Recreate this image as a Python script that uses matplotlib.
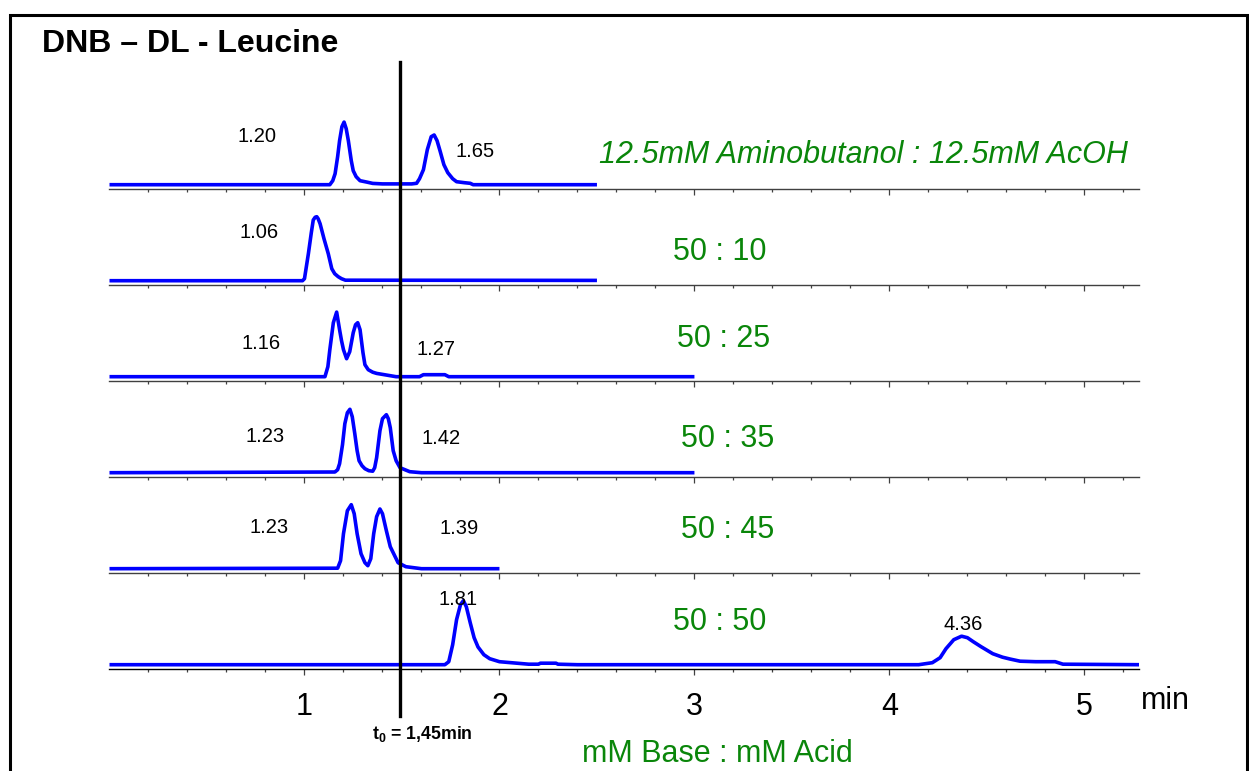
import matplotlib
matplotlib.use('Agg')
import matplotlib.pyplot as plt
from matplotlib.ticker import FixedLocator
from matplotlib.lines import Line2D
from matplotlib.patches import Rectangle
import matplotlib.transforms as mtransforms

plt.rcParams['font.family'] = ['Liberation Sans', 'DejaVu Sans']
plt.rcParams['mathtext.fontset'] = 'custom'
plt.rcParams['mathtext.rm'] = 'Liberation Sans'
plt.rcParams['mathtext.bf'] = 'Liberation Sans:bold'

# ---------------- data ----------------
title = "DNB – DL - Leucine"
x_unit = "min"
x_ticks = [1, 2, 3, 4, 5]
t0_position = 1.49            # where the t0 marker is drawn
t0_label = r"$\mathbf{t_0}$ = 1,45min"
axis_title = "mM Base : mM Acid"

conditions = ["12.5mM Aminobutanol : 12.5mM AcOH", "50 : 10", "50 : 25",
              "50 : 35", "50 : 45", "50 : 50"]

# peak retention-time labels per trace
peak_labels = [["1.20", "1.65"], ["1.06"], ["1.16", "1.27"],
               ["1.23", "1.42"], ["1.23", "1.39"], ["1.81", "4.36"]]

# chromatogram traces: time (min) and signal (arbitrary units)
t_row1 = [0, 1.13, 1.145, 1.157, 1.17, 1.18, 1.192, 1.203, 1.214, 1.225, 1.24, 1.25, 1.265,
          1.285, 1.32, 1.35, 1.40, 1.55, 1.575, 1.59, 1.61, 1.63, 1.65, 1.665, 1.68, 1.695,
          1.715, 1.735, 1.76, 1.78, 1.82, 1.85, 1.865, 2.50]
s_row1 = [0, 0, 4, 11, 28, 44, 58, 62.6, 56, 44, 24, 14, 8,
          4, 2.6, 1.3, 0.8, 0.8, 1.4, 6, 15, 35, 48, 49.7, 44, 34,
          20, 12, 6, 3, 2, 1.4, 0, 0]

t_row2 = [0, 0.99, 1.00, 1.02, 1.035, 1.045, 1.055, 1.063, 1.07, 1.08, 1.10, 1.122, 1.14,
          1.155, 1.173, 1.19, 1.21, 2.50]
s_row2 = [0, 0, 2, 27, 48, 60.7, 63.5, 64, 62, 57, 42, 27, 12,
          7, 4, 2, 0.5, 0.3]

t_row3 = [0, 1.105, 1.12, 1.13, 1.148, 1.165, 1.18, 1.19, 1.20, 1.216, 1.232, 1.25, 1.262,
          1.273, 1.285, 1.30, 1.31, 1.327, 1.35, 1.37, 1.44, 1.47, 1.59, 1.61, 1.72, 1.74, 3.0]
s_row3 = [0, 0, 10, 27, 54, 64.6, 47, 36, 27, 18, 25, 44, 52,
          54, 47, 24, 12, 7, 4.5, 3.3, 1, 0, 0, 2, 2, 0, 0]

t_row4 = [0, 1.156, 1.17, 1.18, 1.195, 1.207, 1.22, 1.233, 1.245, 1.258, 1.27, 1.28, 1.295,
          1.31, 1.33, 1.35, 1.36, 1.37, 1.387, 1.40, 1.42, 1.43, 1.44, 1.455, 1.47, 1.49,
          1.54, 1.60, 3.0]
s_row4 = [0, 0.7, 3, 9, 28, 49, 60, 63.4, 56, 39, 22, 12, 7,
          4, 2, 1.5, 5, 15, 42, 54, 58, 54, 45, 22, 12, 5,
          1, 0, 0]

t_row5 = [0, 1.17, 1.185, 1.20, 1.22, 1.24, 1.255, 1.27, 1.29, 1.31, 1.325, 1.34, 1.355,
          1.37, 1.387, 1.40, 1.42, 1.44, 1.455, 1.48, 1.52, 1.56, 1.60, 2.0]
s_row5 = [0, 0.5, 8, 35, 58, 64, 55, 35, 15, 6, 3, 10, 35,
          52, 59.7, 55, 38, 22, 16, 6, 2, 1, 0, 0]

t_row6 = [0, 1.72, 1.74, 1.76, 1.78, 1.80, 1.815, 1.83, 1.85, 1.87, 1.89, 1.92, 1.95, 2.0,
          2.09, 2.15, 2.20, 2.21, 2.29, 2.30, 2.40, 4.15, 4.22, 4.26, 4.29, 4.33, 4.37, 4.40,
          4.43, 4.47, 4.53, 4.58, 4.62, 4.67, 4.75, 4.85, 4.89, 5.28]
s_row6 = [0, 0, 3, 20, 45, 60, 64, 58, 42, 27, 17.7, 10, 6, 3,
          1.5, 0.5, 0.5, 1.5, 1.5, 0.5, 0, 0, 2, 7, 16, 25, 28.5, 27,
          23, 18, 11, 7.5, 5.6, 3.5, 3, 3, 0.5, 0]

traces = [(t_row1, s_row1), (t_row2, s_row2), (t_row3, s_row3),
          (t_row4, s_row4), (t_row5, s_row5), (t_row6, s_row6)]

# ---------------- layout ----------------
W, H, DPI = 1249, 771, 100
fig = plt.figure(figsize=(W / DPI, H / DPI), dpi=DPI)
fig.patch.set_facecolor('white')


def fx(px):
    return px / W


def fy(py):
    return 1 - py / H


X0_PX, X1_PX = 109.5, 1139
XMIN, XMAX = 0, 5.28
ROW_AXIS_Y = [188.5 + 96 * i for i in range(6)]
ROW_H = 90
BASE_OFF = 3.8
BLUE = '#0000FF'
GREEN = '#0A860A'
AXIS_C = '#404040'

minor_ticks = [round(k * 0.2, 1) for k in range(1, 27) if k % 5]

axes = []
for i, (t, s) in enumerate(traces):
    yb = ROW_AXIS_Y[i]
    ax = fig.add_axes([fx(X0_PX), fy(yb), fx(X1_PX) - fx(X0_PX), ROW_H / H])
    ax.set_xlim(XMIN, XMAX)
    ax.set_ylim(-BASE_OFF, ROW_H - BASE_OFF)
    ax.patch.set_visible(False)
    for sp in ['top', 'left', 'right']:
        ax.spines[sp].set_visible(False)
    ax.spines['bottom'].set_color(AXIS_C if i < 5 else 'black')
    ax.spines['bottom'].set_linewidth(1.0)
    ax.yaxis.set_visible(False)
    ax.xaxis.set_major_locator(FixedLocator(x_ticks))
    ax.xaxis.set_minor_locator(FixedLocator(minor_ticks))
    ax.tick_params(axis='x', which='major', direction='out', length=4, width=0.9,
                   color=AXIS_C, labelsize=22, pad=13)
    ax.tick_params(axis='x', which='minor', direction='out', length=2.2, width=0.9,
                   color=AXIS_C)
    if i < 5:
        ax.tick_params(axis='x', which='both', labelbottom=False)
    ax.plot(t, s, color=BLUE, lw=2.6, solid_joinstyle='round',
            solid_capstyle='butt', clip_on=False, zorder=3)
    axes.append(ax)

# t0 vertical line spanning all rows
trans = mtransforms.blended_transform_factory(axes[-1].transData, fig.transFigure)
fig.add_artist(Line2D([t0_position, t0_position], [fy(62), fy(716)], transform=trans,
                      color='black', lw=2.4, zorder=5))

# frame
fig.add_artist(Rectangle((fx(9.5), fy(800)), fx(1246.5) - fx(9.5), fy(15) - fy(800),
                         transform=fig.transFigure, fill=False, edgecolor='black',
                         lw=2.2, clip_on=False))

# title
fig.text(fx(42), fy(52), title, fontsize=23, fontweight='bold', ha='left',
         va='baseline')

# condition labels (green)
cond_pos = [(863, 163), (720, 260), (724, 347), (728, 447), (728, 538), (720, 630)]
for k, (lab, (px, py)) in enumerate(zip(conditions, cond_pos)):
    fig.text(fx(px), fy(py), lab, fontsize=22, color=GREEN, ha='center', va='baseline',
             style='italic' if k == 0 else 'normal')

# peak labels
peak_pos = [[(257, 142), (475, 157)], [(259, 238)], [(261, 349), (436, 355)],
            [(265, 442), (441, 444)], [(269, 533), (459, 534)], [(458, 605), (963, 630)]]
for labs, poss in zip(peak_labels, peak_pos):
    for lab, (px, py) in zip(labs, poss):
        fig.text(fx(px), fy(py), lab, fontsize=14.5, color='black', ha='center',
                 va='baseline')

# unit, t0 label, axis title
fig.text(fx(1165), fy(709), x_unit, fontsize=22, ha='center', va='baseline')
fig.text(fx(422), fy(739), t0_label, fontsize=12.8, fontweight='bold', ha='center',
         va='baseline')
fig.text(fx(717), fy(762), axis_title, fontsize=22, color=GREEN, ha='center',
         va='baseline')

fig.savefig('out.png', dpi=DPI)
